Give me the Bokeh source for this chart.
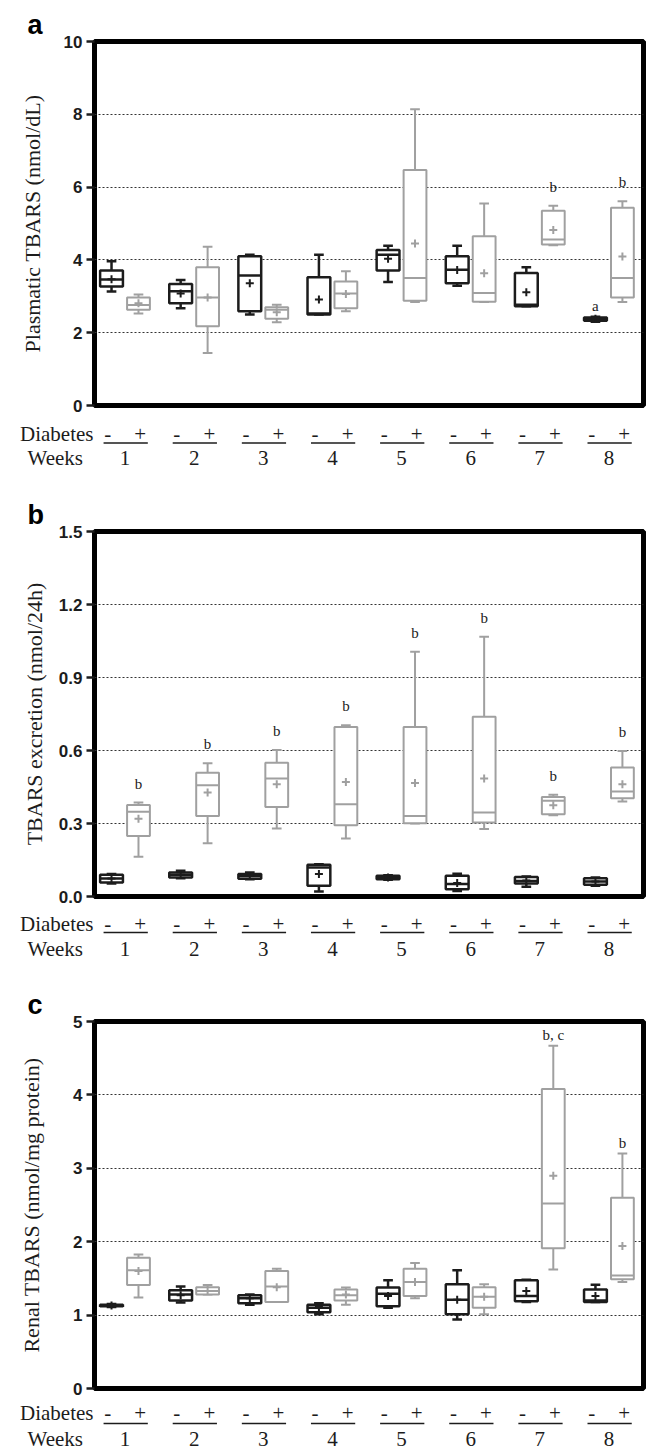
from bokeh.plotting import figure
from bokeh.layouts import column
from bokeh.models import Range1d, FixedTicker, ColumnDataSource, Title, NumeralTickFormatter
from bokeh.embed import file_html
from bokeh.resources import INLINE
from bokeh.core.properties import value

weeks = [1, 2, 3, 4, 5, 6, 7, 8]
week_labels = ["1", "2", "3", "4", "5", "6", "7", "8"]

# ---- Panel a: Plasmatic TBARS (nmol/dL) ----
a_ctrl_min = [3.13, 2.67, 2.50, 2.50, 3.39, 3.29, 2.73, 2.30]
a_ctrl_q1 = [3.27, 2.81, 2.59, 2.50, 3.71, 3.36, 2.73, 2.33]
a_ctrl_med = [3.46, 3.14, 3.57, 2.53, 4.14, 3.73, 2.77, 2.38]
a_ctrl_q3 = [3.71, 3.34, 4.10, 3.52, 4.27, 4.10, 3.64, 2.42]
a_ctrl_max = [3.96, 3.45, 4.14, 4.14, 4.39, 4.39, 3.80, 2.44]
a_ctrl_mean = [3.47, 3.08, 3.36, 2.91, 4.03, 3.72, 3.11, 2.38]
a_diab_min = [2.53, 1.44, 2.29, 2.59, 2.84, 2.84, 4.40, 2.84]
a_diab_q1 = [2.63, 2.18, 2.38, 2.67, 2.88, 2.85, 4.42, 2.97]
a_diab_med = [2.76, 2.97, 2.63, 3.08, 3.50, 3.09, 4.56, 3.50]
a_diab_q3 = [2.97, 3.80, 2.70, 3.41, 6.47, 4.65, 5.35, 5.43]
a_diab_max = [3.05, 4.36, 2.77, 3.69, 8.14, 5.55, 5.49, 5.61]
a_diab_mean = [2.81, 2.97, 2.56, 3.06, 4.45, 3.63, 4.82, 4.09]
a_notes = [(7, "diab", "b"), (8, "diab", "b"), (8, "ctrl", "a")]

# ---- Panel b: TBARS excretion (nmol/24h) ----
b_ctrl_min = [0.053, 0.075, 0.071, 0.021, 0.069, 0.023, 0.040, 0.044]
b_ctrl_q1 = [0.058, 0.078, 0.073, 0.044, 0.071, 0.030, 0.053, 0.048]
b_ctrl_med = [0.074, 0.089, 0.084, 0.119, 0.078, 0.051, 0.064, 0.062]
b_ctrl_q3 = [0.089, 0.099, 0.092, 0.130, 0.085, 0.085, 0.080, 0.075]
b_ctrl_max = [0.092, 0.106, 0.099, 0.133, 0.087, 0.094, 0.082, 0.078]
b_ctrl_mean = [0.074, 0.089, 0.084, 0.092, 0.078, 0.055, 0.066, 0.062]
b_diab_min = [0.163, 0.219, 0.279, 0.238, 0.300, 0.277, 0.334, 0.390]
b_diab_q1 = [0.249, 0.331, 0.368, 0.293, 0.301, 0.304, 0.338, 0.404]
b_diab_med = [0.348, 0.457, 0.485, 0.379, 0.331, 0.345, 0.393, 0.431]
b_diab_q3 = [0.376, 0.509, 0.550, 0.697, 0.697, 0.739, 0.409, 0.530]
b_diab_max = [0.386, 0.548, 0.602, 0.704, 1.006, 1.067, 0.418, 0.598]
b_diab_mean = [0.320, 0.427, 0.461, 0.471, 0.466, 0.485, 0.375, 0.461]
b_notes = [(w, "diab", "b") for w in weeks]

# ---- Panel c: Renal TBARS (nmol/mg protein) ----
c_ctrl_min = [1.11, 1.17, 1.14, 1.01, 1.10, 0.94, 1.18, 1.18]
c_ctrl_q1 = [1.12, 1.20, 1.16, 1.04, 1.12, 1.01, 1.19, 1.18]
c_ctrl_med = [1.13, 1.28, 1.23, 1.10, 1.29, 1.21, 1.26, 1.20]
c_ctrl_q3 = [1.14, 1.34, 1.27, 1.14, 1.375, 1.42, 1.475, 1.35]
c_ctrl_max = [1.15, 1.39, 1.28, 1.16, 1.475, 1.61, 1.48, 1.415]
c_ctrl_mean = [1.13, 1.27, 1.23, 1.11, 1.26, 1.21, 1.33, 1.26]
c_diab_min = [1.24, 1.28, 1.18, 1.14, 1.23, 1.01, 1.62, 1.45]
c_diab_q1 = [1.41, 1.28, 1.18, 1.20, 1.26, 1.10, 1.91, 1.49]
c_diab_med = [1.61, 1.33, 1.39, 1.27, 1.45, 1.25, 2.52, 1.54]
c_diab_q3 = [1.78, 1.38, 1.60, 1.35, 1.63, 1.38, 4.08, 2.60]
c_diab_max = [1.825, 1.41, 1.63, 1.375, 1.71, 1.42, 4.67, 3.20]
c_diab_mean = [1.60, 1.33, 1.38, 1.28, 1.45, 1.25, 2.90, 1.94]
c_notes = [(7, "diab", "b, c"), (8, "diab", "b")]

BLACK = "#1c1c1c"
GRAY = "#a0a0a0"
SERIF = "Liberation Serif"
SANS = "Liberation Sans"
W = 646
FL = 94        # frame left border (shared: column aligns frames)
FR = 3
BW = 0.33      # box width (weeks)
CW = 0.14      # cap width
OFF = 0.195    # group offset
XS = 1 - 30.5 / 69.13
XE = 8.5


def make_panel(letter, ylabel, ymax, ticks, fmt, top, frame_h, groups, notes,
               note_gap, label_h, rows, ax_standoff):
    p = figure(width=W, height=top + frame_h + 10, x_range=Range1d(XS, XE),
               y_range=Range1d(0, ymax), output_backend="svg", toolbar_location=None,
               x_axis_location=None, min_border_left=FL, min_border_right=FR,
               min_border_top=top, min_border_bottom=10)
    p.title = Title(text=letter, align="left", offset=27 - FL, standoff=3,
                    text_font=SANS, text_font_size="27px", text_font_style="bold",
                    text_color="black")
    p.outline_line_color = "black"
    p.outline_line_width = 5
    p.background_fill_color = "white"
    p.border_fill_color = "white"
    ax = p.yaxis[0]
    ax.ticker = FixedTicker(ticks=ticks)
    ax.formatter = NumeralTickFormatter(format=fmt)
    ax.axis_line_color = None
    ax.major_tick_out = 8
    ax.major_tick_in = 0
    ax.major_tick_line_width = 2.5
    ax.major_tick_line_color = BLACK
    ax.minor_tick_line_color = None
    ax.major_label_standoff = 4
    ax.major_label_text_font = SANS
    ax.major_label_text_font_style = "bold"
    ax.major_label_text_font_size = "17px"
    ax.major_label_text_color = BLACK
    ax.axis_label = ylabel
    ax.axis_label_text_font = SERIF
    ax.axis_label_text_font_style = "normal"
    ax.axis_label_text_font_size = "22px"
    ax.axis_label_text_color = BLACK
    ax.axis_label_standoff = ax_standoff
    p.xgrid.visible = False
    p.ygrid.ticker = FixedTicker(ticks=ticks[1:-1])
    p.ygrid.grid_line_color = "#333333"
    p.ygrid.grid_line_dash = "2 2"
    p.ygrid.grid_line_width = 1

    tops = {}
    for name, dx, color, lw in [("ctrl", -OFF, BLACK, 2.5), ("diab", OFF, GRAY, 2.0)]:
        lo, q1, med, q3, hi, mean = groups[name]
        x = [w + dx for w in weeks]
        src = ColumnDataSource(dict(
            x=x, lo=lo, q1=q1, med=med, q3=q3, hi=hi, mean=mean,
            cl=[v - CW / 2 for v in x], cr=[v + CW / 2 for v in x],
            bl=[v - BW / 2 for v in x], br=[v + BW / 2 for v in x]))
        p.segment(x0="x", y0="lo", x1="x", y1="hi", source=src, line_color=color, line_width=lw)
        p.segment(x0="cl", y0="lo", x1="cr", y1="lo", source=src, line_color=color, line_width=lw)
        p.segment(x0="cl", y0="hi", x1="cr", y1="hi", source=src, line_color=color, line_width=lw)
        p.vbar(x="x", width=BW, top="q3", bottom="q1", source=src, fill_color="white",
               line_color=color, line_width=lw)
        p.segment(x0="bl", y0="med", x1="br", y1="med", source=src, line_color=color, line_width=lw)
        p.scatter(x="x", y="mean", source=src, marker="cross", size=8,
                  line_color=color, line_width=2)
        tops[name] = (x, hi)

    for (w, g, t) in notes:
        xx, hh = tops[g]
        i = weeks.index(w)
        gap = note_gap[t] if isinstance(note_gap, dict) else note_gap
        p.text(x=[xx[i]], y=[hh[i]], text=[t], text_font=value(SERIF), text_font_size="15px",
               text_align="center", text_baseline="bottom", y_offset=-gap, text_color=BLACK)

    # label strip below the frame (same frame alignment as the plot above)
    r0, r1, r2 = rows
    q = figure(width=W, height=label_h, x_range=Range1d(XS, XE),
               y_range=Range1d(label_h, 0), output_backend="svg", toolbar_location=None,
               x_axis_location=None, min_border_left=FL, min_border_right=FR,
               min_border_top=0, min_border_bottom=0)
    q.outline_line_color = None
    q.grid.visible = False
    qa = q.yaxis[0]
    qa.ticker = FixedTicker(ticks=[r0, r2])
    qa.major_label_overrides = {r0: "Diabetes", r2: "Weeks\u00a0\u00a0"}
    qa.axis_line_color = None
    qa.major_tick_line_color = None
    qa.minor_tick_line_color = None
    qa.major_tick_out = 0
    qa.major_label_standoff = 1
    qa.major_label_text_font = SERIF
    qa.major_label_text_font_size = "21px"
    qa.major_label_text_color = BLACK
    q.text(x=[w - 0.25 for w in weeks], y=[r0] * 8, text=["-"] * 8, text_font=value(SERIF),
           text_font_size="21px", text_align="center", text_baseline="middle", text_color=BLACK)
    q.text(x=[w + 0.22 for w in weeks], y=[r0] * 8, text=["+"] * 8, text_font=value(SERIF),
           text_font_size="21px", text_align="center", text_baseline="middle", text_color=BLACK)
    q.segment(x0=[w - 0.31 for w in weeks], y0=[r1] * 8, x1=[w + 0.33 for w in weeks],
              y1=[r1] * 8, line_color=BLACK, line_width=1.5)
    q.text(x=weeks, y=[r2] * 8, text=week_labels, text_font=value(SERIF), text_font_size="21px",
           text_align="center", text_baseline="middle", text_color=BLACK)
    return p, q


pa, la = make_panel("a", "Plasmatic TBARS (nmol/dL)", 10, [0, 2, 4, 6, 8, 10], "0",
                    41, 364,
                    {"ctrl": (a_ctrl_min, a_ctrl_q1, a_ctrl_med, a_ctrl_q3, a_ctrl_max, a_ctrl_mean),
                     "diab": (a_diab_min, a_diab_q1, a_diab_med, a_diab_q3, a_diab_max, a_diab_mean)},
                    a_notes, {"a": 3, "b": 11}, 55, (18, 27.5, 42), 16)
pb, lb = make_panel("b", "TBARS excretion (nmol/24h)", 1.5, [0, 0.3, 0.6, 0.9, 1.2, 1.5], "0.0",
                    61, 365,
                    {"ctrl": (b_ctrl_min, b_ctrl_q1, b_ctrl_med, b_ctrl_q3, b_ctrl_max, b_ctrl_mean),
                     "diab": (b_diab_min, b_diab_q1, b_diab_med, b_diab_q3, b_diab_max, b_diab_mean)},
                    b_notes, 11, 55, (17, 26, 42), 9)
pc, lc = make_panel("c", "Renal TBARS (nmol/mg protein)", 5, [0, 1, 2, 3, 4, 5], "0",
                    60, 367,
                    {"ctrl": (c_ctrl_min, c_ctrl_q1, c_ctrl_med, c_ctrl_q3, c_ctrl_max, c_ctrl_mean),
                     "diab": (c_diab_min, c_diab_q1, c_diab_med, c_diab_q3, c_diab_max, c_diab_mean)},
                    c_notes, 3, 52, (14, 25, 40), 26)

layout = column(pa, la, pb, lb, pc, lc, spacing=0)
open("out.html", "w").write(file_html(layout, INLINE))
